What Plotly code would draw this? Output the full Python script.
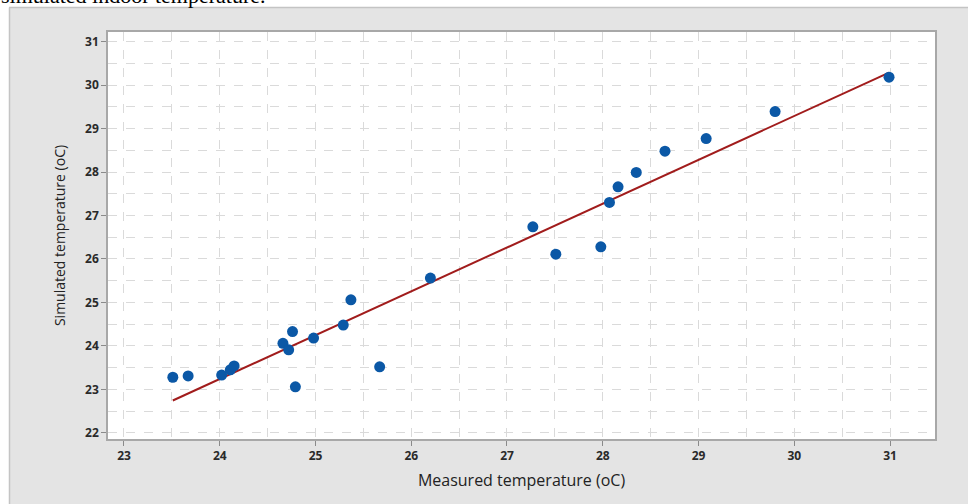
import numpy as np
import plotly.graph_objects as go

measured = [23.51, 23.67, 24.02, 24.11, 24.15, 24.66, 24.72, 24.76, 24.79, 24.98,
            25.29, 25.37, 25.67, 26.20, 27.27, 27.51, 27.98, 28.07, 28.16, 28.35,
            28.65, 29.08, 29.80, 30.99]
simulated = [23.28, 23.31, 23.33, 23.45, 23.54, 24.06, 23.91, 24.33, 23.06, 24.18,
             24.48, 25.06, 23.52, 25.56, 26.74, 26.11, 26.28, 27.30, 27.66, 27.99,
             28.48, 28.77, 29.39, 30.18]

x_ticks = [23, 24, 25, 26, 27, 28, 29, 30, 31]
y_ticks = [22, 23, 24, 25, 26, 27, 28, 29, 30, 31]

slope, intercept = np.polyfit(measured, simulated, 1)
fit_x = [min(measured), max(measured)]
fit_y = [slope * v + intercept for v in fit_x]

W, H = 968, 504
ml, mr, mt, mb = 108, 33, 32, 65
pw, ph = W - ml - mr, H - mt - mb

def px(xp):
    return (xp - ml) / pw

def py(yp):
    return (H - mb - yp) / ph

fig = go.Figure()
fig.add_trace(go.Scatter(x=fit_x, y=fit_y, mode="lines",
                         line=dict(color="#a11c1c", width=2), showlegend=False))
fig.add_trace(go.Scatter(x=measured, y=simulated, mode="markers",
                         marker=dict(color="#0b58a6", size=11, line=dict(width=0)),
                         showlegend=False))

grid = "#dadada"
tickfont = dict(family="Open Sans", size=12, color="#2a2a2a", weight=700)
common = dict(showline=True, mirror=True, linecolor="#a8a8a8", linewidth=1.5,
              ticks="outside", ticklen=5, tickcolor="#8a8a8a", tickwidth=1,
              showgrid=True, gridcolor=grid, griddash="dash", gridwidth=1,
              zeroline=False, tickfont=tickfont)

fig.update_xaxes(range=[22.833, 31.47], tickvals=x_ticks,
                 minor=dict(dtick=0.5, tick0=22.5, showgrid=True, gridcolor=grid,
                            griddash="dash", gridwidth=1),
                 title=dict(text="Measured temperature (oC)",
                            font=dict(family="Open Sans", size=16, color="#222222"),
                            standoff=12),
                 **common)
fig.update_yaxes(range=[21.86, 31.22], tickvals=y_ticks,
                 minor=dict(dtick=0.5, tick0=21.5, showgrid=True, gridcolor=grid,
                            griddash="dash", gridwidth=1),
                 title=dict(text="Simulated temperature (oC)",
                            font=dict(family="Open Sans", size=14, color="#222222"),
                            standoff=16),
                 **common)

shapes = [
    # white strips above and left of the gray panel
    dict(type="rect", xref="paper", yref="paper", x0=px(-5), x1=px(W + 5),
         y0=py(7), y1=py(-5), fillcolor="white", line=dict(width=0), layer="below"),
    dict(type="rect", xref="paper", yref="paper", x0=px(-5), x1=px(9),
         y0=py(H + 5), y1=py(-5), fillcolor="white", line=dict(width=0), layer="below"),
    # panel border lines
    dict(type="line", xref="paper", yref="paper", x0=px(9), x1=px(W + 5),
         y0=py(7.5), y1=py(7.5), line=dict(color="#c4c4c4", width=1.5)),
    dict(type="line", xref="paper", yref="paper", x0=px(9.5), x1=px(9.5),
         y0=py(7.5), y1=py(H + 5), line=dict(color="#c4c4c4", width=1.5)),
]

fig.update_layout(
    width=W, height=H,
    margin=dict(l=ml, r=mr, t=mt, b=mb),
    paper_bgcolor="#e4e4e4", plot_bgcolor="white",
    shapes=shapes,
    annotations=[dict(text="simulated indoor temperature.", xref="paper", yref="paper",
                      x=px(-1), y=py(10), xanchor="left", yanchor="bottom",
                      showarrow=False,
                      font=dict(family="Liberation Serif", size=22, color="black"))],
)

fig.write_html("out.html", config={"displayModeBar": False},
               post_script="document.body.style.margin='0';")
